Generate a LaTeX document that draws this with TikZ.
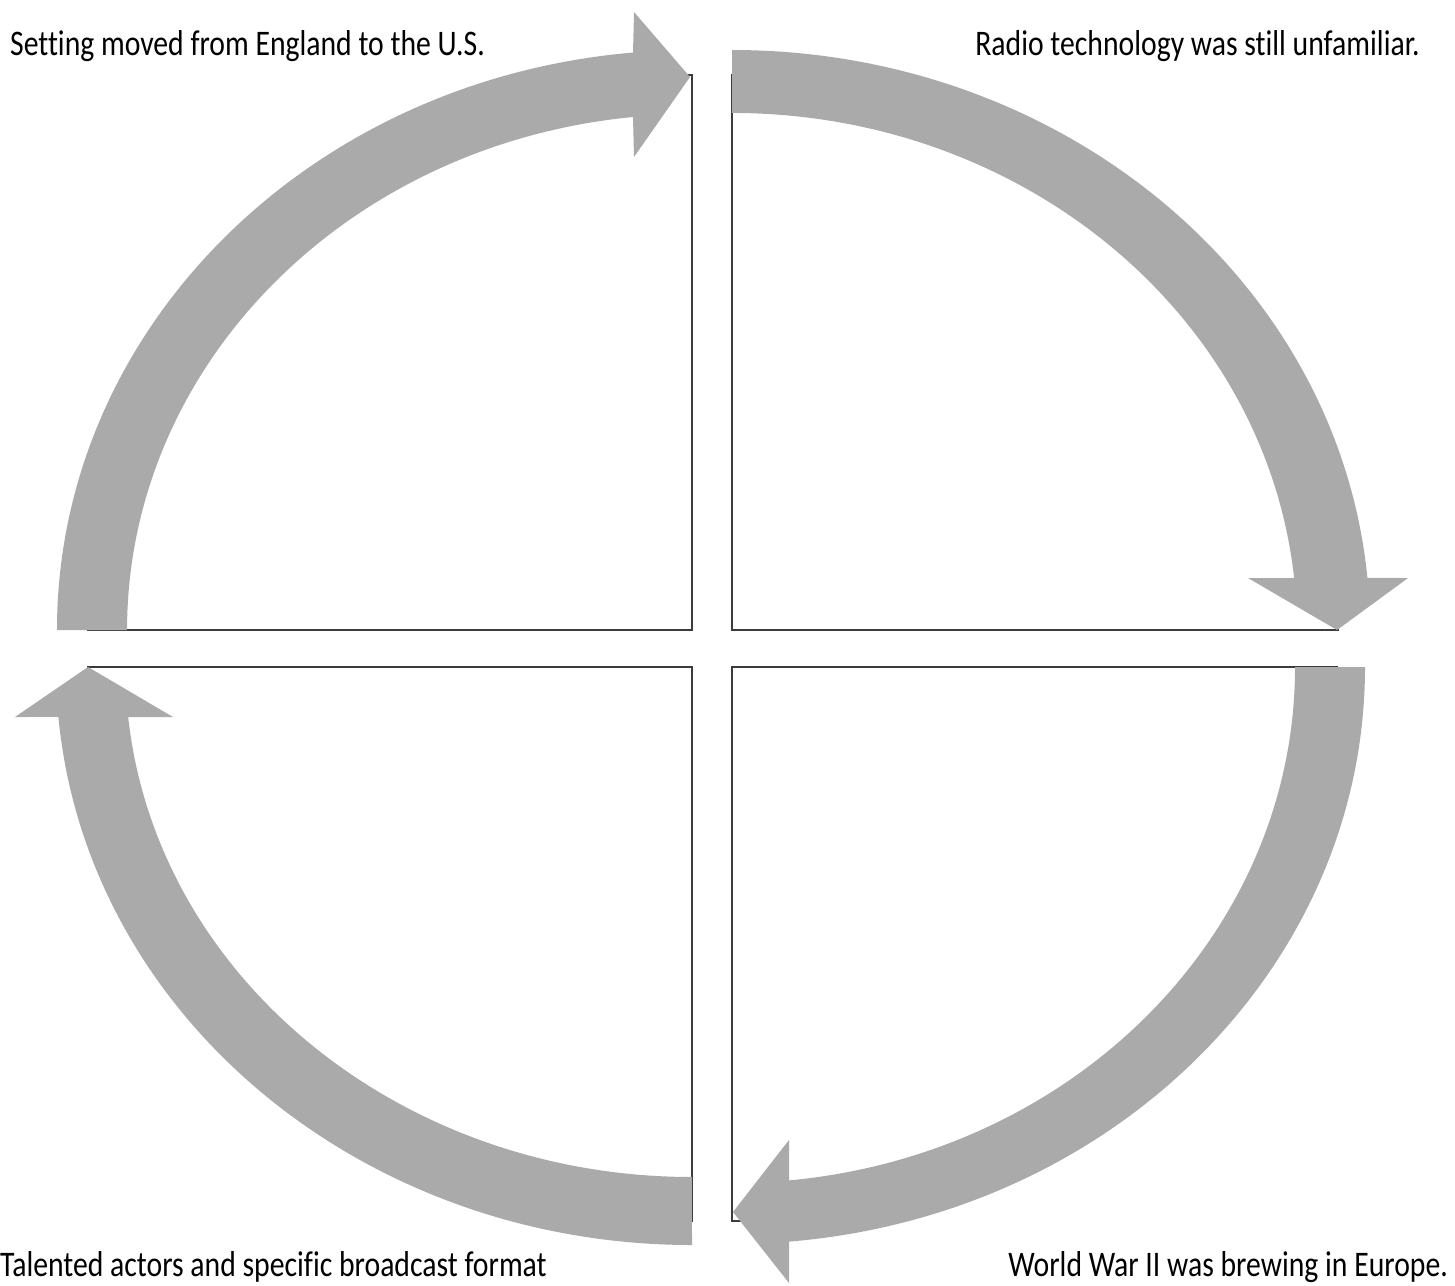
\documentclass[tikz,border=0pt]{standalone}
\usepackage{fontspec}
\setmainfont{Carlito}[Ligatures={NoCommon}]
\definecolor{arrowgray}{RGB}{170,170,170}
\definecolor{linegray}{RGB}{60,60,60}
\newcommand{\narrowtext}[1]{\scalebox{0.825}[1]{#1}}
\begin{document}
\begin{tikzpicture}[x=1pt,y=-1pt,
  quadpie/.style={draw=linegray,line width=1.6pt,fill=white,line join=miter},
  cyclearrow/.style={fill=arrowgray},
  qtext/.style={font=\fontsize{36}{40}\selectfont,inner sep=0pt,text=black}]
\useasboundingbox (0,0) rectangle (1455,1285);

% quadrant sectors (outer arcs lie under the arrows)
\coordinate (ctl) at (692,630);
\coordinate (ctr) at (732,630);
\coordinate (cbr) at (732,667);
\coordinate (cbl) at (692,667);
\draw[quadpie] (ctl) -- (88,630) arc[start angle=180,end angle=270,x radius=604,y radius=555] -- cycle;
\draw[quadpie] (ctr) -- (732,75) arc[start angle=270,end angle=360,x radius=606,y radius=555] -- cycle;
\draw[quadpie] (cbr) -- (1337,667) arc[start angle=0,end angle=90,x radius=605,y radius=554] -- cycle;
\draw[quadpie] (cbl) -- (692,1221) arc[start angle=90,end angle=180,x radius=604,y radius=554] -- cycle;

% arrow A: top-left, pointing right
\fill[cyclearrow] (57,630) arc[start angle=180,end angle=264.67,x radius=635,y radius=580]
  -- (634,12) -- (690,77) -- (634,157) -- (633,117)
  arc[start angle=264.0,end angle=180,x radius=565,y radius=516] -- cycle;
% arrow B: top-right, pointing down
\fill[cyclearrow] (732,50) arc[start angle=270,end angle=354.85,x radius=638,y radius=580]
  -- (1408,578) -- (1337,630) -- (1248,578) -- (1294.1,578)
  arc[start angle=354.23,end angle=270,x radius=565,y radius=517] -- cycle;
% arrow C: bottom-right, pointing left
\fill[cyclearrow] (1365,667) arc[start angle=0,end angle=84.83,x radius=633,y radius=577]
  -- (789,1283) -- (733,1212) -- (789,1140) -- (789,1180.4)
  arc[start angle=84.19,end angle=0,x radius=563,y radius=516] -- cycle;
% arrow D: bottom-left, pointing up
\fill[cyclearrow] (692,1245) arc[start angle=90,end angle=175.04,x radius=636,y radius=578]
  -- (15,717) -- (88,667) -- (173,717) -- (128.2,717)
  arc[start angle=174.37,end angle=90,x radius=566.5,y radius=510] -- cycle;

% texts
\node[qtext,anchor=base west] (ttl) at (10,55) {\narrowtext{Setting moved from England to the U.S.}};
\node[qtext,anchor=base east] (ttr) at (1420,55) {\narrowtext{Radio technology was still unfamiliar.}};
\node[qtext,anchor=base west] (tbl) at (0,1276) {\narrowtext{Talented actors and specific broadcast format}};
\node[qtext,anchor=base east] (tbr) at (1448,1276) {\narrowtext{World War II was brewing in Europe.}};
\end{tikzpicture}
\end{document}
